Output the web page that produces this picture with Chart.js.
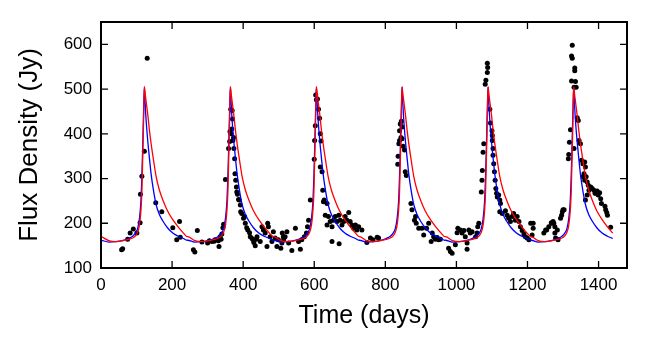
<!DOCTYPE html>
<html lang="en">
<head>
  <meta charset="UTF-8" />
  <title>Flux Density light curve</title>
  <script src="https://cdn.jsdelivr.net/npm/chart.js"></script>
  <style>
    body { margin: 0; background: #fff; }
    #wrap { width: 654px; height: 353px; }
  </style>
</head>
<body>
  <div id="wrap"><canvas id="fluxChart" width="654" height="353"></canvas></div>

  <script>
    // axis ticks
    const xTicks = [0, 200, 400, 600, 800, 1000, 1200, 1400];
    const yTicks = [100, 200, 300, 400, 500, 600];

    // model curves: peak epochs and one flare profile (days from peak -> Jy)
    const peakDays = [122, 364, 606, 847, 1089, 1330];
    const profileOffset = [-120, -100, -80, -60, -45, -33, -25, -19, -14, -10, -7, -5, -3, -1.5, 0,
                           2, 4, 7, 10, 14, 19, 26, 33, 42, 52, 65, 80, 95, 110, 120];
    const blueProfile = [162, 158, 159, 162, 166, 171, 178, 188, 210, 245, 305, 360, 425, 470, 505,
                         472, 442, 408, 380, 348, 310, 272, 242, 220, 205, 190, 178, 171, 166, 162];
    const redProfile  = [170, 161, 159, 161, 164, 167, 172, 180, 195, 225, 270, 335, 400, 455, 505,
                         492, 478, 460, 440, 410, 378, 340, 305, 275, 252, 228, 208, 192, 178, 170];
    const curveEnd = 1445;

    // observed points [day, Jy]
    const observed = [
      [58,141],[61,143],[75,164],[82,178],[91,187],[101,178],[110,201],[111,265],[115,305],[122,361],
      [130,569],[154,246],[171,226],[202,190],[213,163],[221,204],[223,169],[260,141],[264,136],[271,184],
      [284,158],[300,156],[305,161],[312,159],[318,160],[321,163],[330,161],[332,148],[335,170],[338,164],
      [340,176],[343,190],[345,198],[350,298],[359,367],[362,383],[363,405],[365,455],[366,400],[368,411],
      [369,452],[370,433],[371,385],[373,392],[374,367],[376,344],[377,311],[379,296],[381,281],[382,270],
      [384,265],[387,253],[389,252],[392,241],[393,226],[396,222],[401,211],[404,215],[406,200],[410,190],
      [413,185],[418,179],[420,170],[425,166],[428,163],[430,157],[434,150],[437,164],[439,170],[448,159],
      [453,192],[457,185],[462,178],[467,148],[469,200],[471,192],[476,170],[481,159],[485,181],[490,167],
      [495,148],[499,163],[506,144],[509,156],[513,170],[510,178],[518,170],[523,181],[514,163],[528,156],
      [537,139],[547,189],[556,159],[561,142],[565,163],[572,170],[578,178],[581,192],[584,207],[589,252],
      [600,343],[601,385],[603,418],[604,487],[606,476],[609,478],[612,455],[615,435],[617,400],[619,384],
      [617,326],[622,315],[624,274],[628,252],[626,248],[636,244],[631,218],[640,215],[636,196],[645,204],
      [650,192],[654,207],[659,215],[664,204],[669,218],[673,207],[678,196],[683,204],[687,215],[692,207],
      [697,224],[701,204],[706,196],[711,189],[716,196],[720,185],[725,192],[734,185],[650,159],[670,154],
      [748,157],[758,167],[765,163],[777,169],[781,167],
      [835,332],[836,350],[838,378],[840,385],[840,407],[842,422],[845,428],[847,415],[844,392],[847,389],
      [850,372],[854,364],[856,315],[859,307],[872,244],[875,230],[885,215],[882,207],[887,200],[894,189],
      [903,189],[908,174],[922,200],[916,189],[932,178],[936,170],[941,164],[929,159],[946,168],[950,163],
      [955,164],[978,144],[983,137],[988,133],[997,152],[1002,179],[1004,189],[1011,185],[1016,178],[1021,184],
      [1025,170],[1030,156],[1030,142],[1035,185],[1039,178],[1044,181],[1054,170],[1058,178],[1060,192],[1063,200],
      [1070,270],[1072,296],[1073,318],[1075,359],[1077,378],[1081,511],[1083,520],[1087,537],[1088,548],[1087,558],
      [1094,455],[1096,424],[1100,407],[1101,396],[1101,385],[1103,367],[1103,352],[1105,333],[1107,315],[1109,296],
      [1111,278],[1113,267],[1115,259],[1119,263],[1122,252],[1124,244],[1122,226],[1129,222],[1138,228],[1143,218],
      [1147,211],[1152,204],[1157,215],[1161,222],[1166,207],[1171,215],[1176,204],[1180,192],[1185,184],[1190,176],
      [1194,170],[1199,167],[1204,163],[1209,200],[1216,200],[1216,189],[1213,174],[1246,178],[1254,185],[1260,192],
      [1267,201],[1272,204],[1277,192],[1251,185],[1268,200],[1274,200],[1284,185],[1286,163],[1277,178],[1279,167],
      [1293,211],[1296,218],[1298,226],[1300,230],[1303,230],[1315,344],[1316,354],[1318,381],[1321,409],[1331,367],
      [1324,518],[1324,574],[1326,569],[1326,598],[1333,541],[1333,547],[1335,517],[1331,504],[1337,504],[1340,436],
      [1343,430],[1345,385],[1349,378],[1352,341],[1356,333],[1361,337],[1363,326],[1359,311],[1356,304],[1361,296],
      [1365,304],[1368,292],[1371,285],[1373,274],[1368,263],[1363,252],[1378,281],[1382,278],[1387,274],[1390,267],
      [1393,267],[1396,272],[1399,263],[1403,268],[1406,255],[1408,244],[1418,238],[1420,230],[1423,224],[1425,218],
      [1434,191]
    ];

    function buildCurve(profile) {
      const pts = [];
      peakDays.forEach(p => {
        profileOffset.forEach((off, i) => {
          const x = p + off;
          if (x <= curveEnd) pts.push({ x: x, y: profile[i] });
        });
      });
      return pts;
    }

    // box round the plot with inward ticks on all four sides
    const framePlugin = {
      id: 'frame',
      afterDraw(chart) {
        const { ctx, chartArea: a, scales } = chart;
        const len = 7;
        ctx.save();
        ctx.strokeStyle = '#000';
        ctx.lineWidth = 1.3;
        ctx.beginPath();
        xTicks.forEach(v => {
          const px = scales.x.getPixelForValue(v);
          ctx.moveTo(px, a.bottom); ctx.lineTo(px, a.bottom - len);
          ctx.moveTo(px, a.top); ctx.lineTo(px, a.top + len);
        });
        yTicks.forEach(v => {
          const py = scales.y.getPixelForValue(v);
          ctx.moveTo(a.left, py); ctx.lineTo(a.left + len, py);
          ctx.moveTo(a.right, py); ctx.lineTo(a.right - len, py);
        });
        ctx.stroke();
        ctx.lineWidth = 2;
        ctx.strokeRect(a.left, a.top, a.right - a.left, a.bottom - a.top);
        ctx.restore();
      }
    };

    Chart.defaults.font.family = "'Liberation Sans', Arial, sans-serif";
    Chart.defaults.color = '#000';

    const plain = v => String(v);

    const ctx = document.getElementById('fluxChart').getContext('2d');
    new Chart(ctx, {
      type: 'scatter',
      data: {
        datasets: [
          {
            label: 'Model (red)',
            type: 'line',
            data: buildCurve(redProfile),
            borderColor: '#ff0000',
            borderWidth: 1.3,
            pointRadius: 0,
            fill: false,
            cubicInterpolationMode: 'monotone',
            order: 0
          },
          {
            label: 'Model (blue)',
            type: 'line',
            data: buildCurve(blueProfile),
            borderColor: '#0000ff',
            borderWidth: 1.3,
            pointRadius: 0,
            fill: false,
            cubicInterpolationMode: 'monotone',
            order: 1
          },
          {
            label: 'Observed',
            data: observed.map(([d, f]) => ({ x: d, y: f })),
            backgroundColor: '#000',
            borderColor: '#000',
            pointRadius: 2.5,
            borderWidth: 0,
            order: 2
          }
        ]
      },
      options: {
        responsive: false,
        animation: false,
        layout: { padding: { top: 22, right: 27, left: 0, bottom: 0 } },
        plugins: { legend: { display: false }, tooltip: { enabled: false } },
        scales: {
          x: {
            type: 'linear',
            min: 0,
            max: 1480,
            afterBuildTicks: s => { s.ticks = xTicks.map(v => ({ value: v })); },
            afterFit: s => { s.height = 85; },
            grid: { display: false, drawTicks: false },
            border: { display: false },
            ticks: { font: { size: 17 }, padding: 7, maxRotation: 0, callback: plain },
            title: {
              display: true,
              text: 'Time (days)',
              font: { size: 25 },
              padding: { top: 0, bottom: 22 }
            }
          },
          y: {
            type: 'linear',
            min: 100,
            max: 650,
            afterBuildTicks: s => { s.ticks = yTicks.map(v => ({ value: v })); },
            afterFit: s => { s.width = 101; },
            grid: { display: false, drawTicks: false },
            border: { display: false },
            ticks: { font: { size: 17 }, padding: 9, callback: plain },
            title: {
              display: true,
              text: 'Flux Density (Jy)',
              font: { size: 26 },
              padding: { top: 14, bottom: 0 }
            }
          }
        }
      },
      plugins: [framePlugin]
    });
  </script>
</body>
</html>
